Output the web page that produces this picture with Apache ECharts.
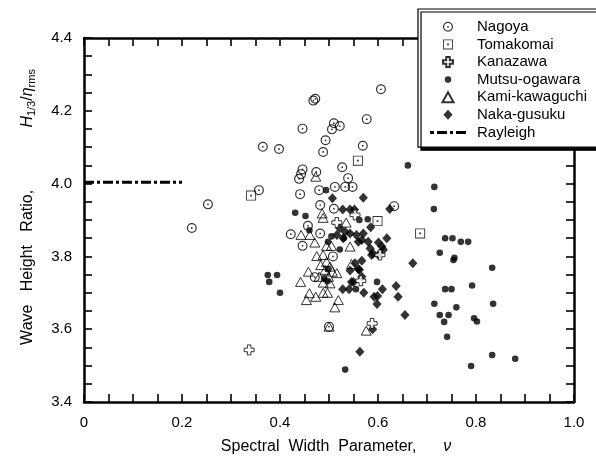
<!DOCTYPE html>
<html>
<head>
<meta charset="utf-8">
<script src="https://cdn.jsdelivr.net/npm/echarts@6/dist/echarts.min.js"></script>
<style>
  html, body { margin: 0; padding: 0; background: #fff; }
  #chart { width: 596px; height: 464px; }
</style>
</head>
<body>
<div id="chart"></div>
<script>
// Tick labels
const xTickLabels = ['0', '0.2', '0.4', '0.6', '0.8', '1.0'];
const yTickLabels = ['3.4', '3.6', '3.8', '4.0', '4.2', '4.4'];

// Series names (legend order)
const seriesNames = ['Nagoya', 'Tomakomai', 'Kanazawa', 'Mutsu-ogawara', 'Kami-kawaguchi', 'Naka-gusuku', 'Rayleigh'];

// [spectral width parameter, H1/3 / eta_rms]
const nagoya = [
  [0.220, 3.878], [0.253, 3.943], [0.357, 3.982], [0.365, 4.101], [0.398, 4.095],
  [0.446, 4.151], [0.468, 4.228], [0.472, 4.233], [0.493, 4.119], [0.488, 4.087],
  [0.510, 4.166], [0.522, 4.158], [0.506, 4.149], [0.577, 4.177], [0.606, 4.259],
  [0.569, 4.104], [0.446, 4.039], [0.443, 4.026], [0.439, 4.013], [0.474, 4.032],
  [0.527, 4.045], [0.539, 4.015], [0.533, 3.991], [0.548, 3.991], [0.512, 3.991],
  [0.441, 3.971], [0.480, 3.982], [0.482, 3.941], [0.510, 3.931], [0.633, 3.938],
  [0.457, 3.884], [0.422, 3.861], [0.482, 3.863], [0.446, 3.829], [0.471, 3.743],
  [0.500, 3.607], [0.508, 3.800]
];
const tomakomai = [[0.341, 3.967], [0.559, 4.063], [0.599, 3.897], [0.686, 3.863]];
const kanazawa = [
  [0.337, 3.543], [0.553, 3.914], [0.516, 3.893], [0.604, 3.804], [0.565, 3.733], [0.588, 3.616]
];
const mutsuOgawara = [
  [0.661, 4.050], [0.715, 3.991], [0.714, 3.930], [0.494, 3.982], [0.431, 3.920],
  [0.452, 3.911], [0.562, 3.900], [0.579, 3.902], [0.460, 3.872], [0.498, 3.840],
  [0.522, 3.819], [0.375, 3.749], [0.394, 3.749], [0.378, 3.730], [0.400, 3.700],
  [0.490, 3.740], [0.497, 3.732], [0.555, 3.710], [0.598, 3.730], [0.737, 3.850],
  [0.752, 3.850], [0.769, 3.840], [0.784, 3.840], [0.726, 3.810], [0.756, 3.796],
  [0.754, 3.790], [0.833, 3.769], [0.737, 3.710], [0.750, 3.710], [0.792, 3.720],
  [0.835, 3.670], [0.715, 3.670], [0.760, 3.660], [0.726, 3.639], [0.744, 3.639],
  [0.735, 3.620], [0.796, 3.630], [0.802, 3.621], [0.741, 3.579], [0.833, 3.529],
  [0.880, 3.519], [0.790, 3.499], [0.533, 3.489], [0.505, 3.855], [0.530, 3.850],
  [0.498, 3.765]
];
const kamiKawaguchi = [
  [0.473, 4.019], [0.486, 3.918], [0.488, 3.906], [0.535, 3.893], [0.443, 3.859],
  [0.461, 3.859], [0.471, 3.838], [0.495, 3.829], [0.505, 3.829], [0.458, 3.758],
  [0.442, 3.730], [0.460, 3.699], [0.454, 3.680], [0.473, 3.689], [0.488, 3.700],
  [0.497, 3.700], [0.512, 3.660], [0.519, 3.680], [0.500, 3.607], [0.576, 3.596],
  [0.475, 3.801], [0.488, 3.804], [0.495, 3.785], [0.483, 3.776], [0.502, 3.772],
  [0.492, 3.763], [0.507, 3.758], [0.516, 3.754], [0.480, 3.744], [0.499, 3.744],
  [0.488, 3.728], [0.502, 3.726], [0.543, 3.827], [0.546, 3.779]
];
const nakaGusuku = [
  [0.507, 3.960], [0.570, 3.961], [0.624, 3.930], [0.528, 3.929], [0.543, 3.929],
  [0.552, 3.929], [0.585, 3.880], [0.560, 3.840], [0.580, 3.840], [0.601, 3.838],
  [0.618, 3.850], [0.611, 3.818], [0.587, 3.804], [0.601, 3.804], [0.671, 3.781],
  [0.567, 3.788], [0.543, 3.761], [0.560, 3.765], [0.567, 3.744], [0.546, 3.730],
  [0.528, 3.710], [0.541, 3.710], [0.571, 3.700], [0.592, 3.689], [0.599, 3.691],
  [0.598, 3.669], [0.609, 3.710], [0.637, 3.719], [0.641, 3.689], [0.655, 3.639],
  [0.589, 3.600], [0.563, 3.538], [0.522, 3.877], [0.533, 3.868], [0.516, 3.859],
  [0.543, 3.863], [0.529, 3.850], [0.556, 3.859], [0.567, 3.845], [0.570, 3.863],
  [0.608, 3.827], [0.584, 3.822], [0.590, 3.808], [0.553, 3.781], [0.562, 3.763],
  [0.550, 3.730]
];
// Rayleigh value for a narrow-band spectrum
const rayleigh = [[0, 4.004], [0.2, 4.004]];

// Marker shapes (10 x 10 boxes; tiny corner specks fix the box for the dot)
const ringDot = 'path://M0,-5A5,5,0,1,1,0,5A5,5,0,1,1,0,-5Z' +
  'M0,-3.8A3.8,3.8,0,1,0,0,3.8A3.8,3.8,0,1,0,0,-3.8Z' +
  'M0,-0.9A0.9,0.9,0,1,1,0,0.9A0.9,0.9,0,1,1,0,-0.9Z';
const squareDot = 'path://M-5,-5H5V5H-5Z' +
  'M-4.1,-4.1V4.1H4.1V-4.1Z' +
  'M-0.9,-0.9H0.9V0.9H-0.9Z';
const plusShape = 'path://M-1.2,-3.4H1.2V-1.2H3.4V1.2H1.2V3.4H-1.2V1.2H-3.4V-1.2H-1.2Z';
const solidDot = 'path://M0,-3.3A3.3,3.3,0,1,1,0,3.3A3.3,3.3,0,1,1,0,-3.3Z' +
  'M-5,-5h0.01v0.01h-0.01Z M4.99,4.99h0.01v0.01h-0.01Z';
const openTriangle = 'path://M0,-4.5L5,4.5H-5Z';
const solidDiamond = 'path://M0,-5L4.6,0L0,5L-4.6,0Z';
// Dash-dot key for the Rayleigh line (36 x 3)
const dashDotKey = 'path://M0,0H4V3H0Z M7,0H17V3H7Z M20,0H23V3H20Z M26,0H36V3H26Z';

const FONT = 'Liberation Sans, Arial, sans-serif';

const frameAxis = {
  type: 'value',
  min: 0, max: 1, interval: 0.2,
  axisLine: { show: true, onZero: false, lineStyle: { color: '#000', width: 2.5 } },
  axisTick: { show: true, inside: true, length: 8, lineStyle: { color: '#000', width: 1.6 } },
  minorTick: { show: true, splitNumber: 4, length: 8, lineStyle: { color: '#000', width: 1.6 } },
  splitLine: { show: false },
  minorSplitLine: { show: false }
};

const chart = echarts.init(document.getElementById('chart'), null, { renderer: 'canvas' });

chart.setOption({
  backgroundColor: '#fff',
  animation: false,
  grid: { left: 84, right: 22, top: 38, bottom: 62 },
  xAxis: [
    Object.assign({}, frameAxis, {
      position: 'bottom',
      axisLabel: {
        color: '#000', fontFamily: FONT, fontSize: 15, margin: 13,
        formatter: v => xTickLabels[Math.round(v / 0.2)]
      },
      name: 'Spectral  Width  Parameter,      {i|ν}',
      nameLocation: 'middle',
      nameGap: 37,
      nameTextStyle: {
        color: '#000', fontFamily: FONT, fontSize: 16,
        padding: [0, 0, 0, 14],
        rich: { i: { fontFamily: FONT, fontSize: 16, fontStyle: 'italic', color: '#000' } }
      }
    }),
    Object.assign({}, frameAxis, { position: 'top', axisLabel: { show: false } })
  ],
  yAxis: [
    Object.assign({}, frameAxis, {
      min: 3.4, max: 4.4, interval: 0.2,
      position: 'left',
      axisLabel: {
        color: '#000', fontFamily: FONT, fontSize: 15, margin: 12,
        formatter: v => yTickLabels[Math.round((v - 3.4) / 0.2)]
      },
      name: 'Wave   Height   Ratio,              {i|H}{s|1/3}{n|/}{i|η}{s|rms}',
      nameLocation: 'middle',
      nameGap: 47,
      nameTextStyle: {
        color: '#000', fontFamily: FONT, fontSize: 16,
        padding: [0, 0, 0, 26],
        rich: {
          i: { fontFamily: FONT, fontSize: 16, fontStyle: 'italic', color: '#000' },
          n: { fontFamily: FONT, fontSize: 16, color: '#000' },
          s: { fontFamily: FONT, fontSize: 11, color: '#000', padding: [7, 0, 0, 0] }
        }
      }
    }),
    Object.assign({}, frameAxis, { min: 3.4, max: 4.4, interval: 0.2, position: 'right', axisLabel: { show: false } })
  ],
  legend: {
    orient: 'vertical',
    left: 418,
    top: 9,
    data: seriesNames.map(n => n === 'Rayleigh' ? { name: n, icon: dashDotKey } : { name: n }),
    selectedMode: false,
    itemWidth: 36,
    itemHeight: 10,
    itemGap: 0,
    symbolKeepAspect: true,
    padding: [9, 12, 6, 12],
    backgroundColor: '#fff',
    borderColor: '#000',
    borderWidth: 1.2,
    shadowColor: '#000',
    shadowBlur: 0,
    shadowOffsetX: 3,
    shadowOffsetY: 3,
    textStyle: { color: '#000', fontFamily: FONT, fontSize: 15, lineHeight: 17.6, padding: [0, 0, 0, 6] }
  },
  series: [
    {
      name: 'Nagoya', type: 'scatter', data: nagoya,
      symbol: ringDot, symbolSize: 10, symbolKeepAspect: true,
      itemStyle: { color: '#000', borderWidth: 0 }, z: 2
    },
    {
      name: 'Tomakomai', type: 'scatter', data: tomakomai,
      symbol: squareDot, symbolSize: 10, symbolKeepAspect: true,
      itemStyle: { color: '#000', borderWidth: 0 }, z: 2
    },
    {
      name: 'Kanazawa', type: 'scatter', data: kanazawa,
      symbol: plusShape, symbolSize: 10, symbolKeepAspect: true,
      itemStyle: { color: '#fff', borderColor: '#000', borderWidth: 1 }, z: 4
    },
    {
      name: 'Mutsu-ogawara', type: 'scatter', data: mutsuOgawara,
      symbol: solidDot, symbolSize: 10, symbolKeepAspect: true,
      itemStyle: { color: '#000' }, z: 2
    },
    {
      name: 'Kami-kawaguchi', type: 'scatter', data: kamiKawaguchi,
      symbol: openTriangle, symbolSize: 10, symbolKeepAspect: true,
      itemStyle: { color: 'rgba(255,255,255,0)', borderColor: '#000', borderWidth: 1 }, z: 2
    },
    {
      name: 'Naka-gusuku', type: 'scatter', data: nakaGusuku,
      symbol: solidDiamond, symbolSize: 10, symbolKeepAspect: true,
      itemStyle: { color: '#000' }, z: 3
    },
    {
      name: 'Rayleigh', type: 'line', data: rayleigh,
      symbol: 'none',
      lineStyle: { color: '#000', width: 3, type: [10, 3, 3, 3] },
      itemStyle: { color: '#000' }, z: 2
    }
  ]
});
</script>
</body>
</html>
